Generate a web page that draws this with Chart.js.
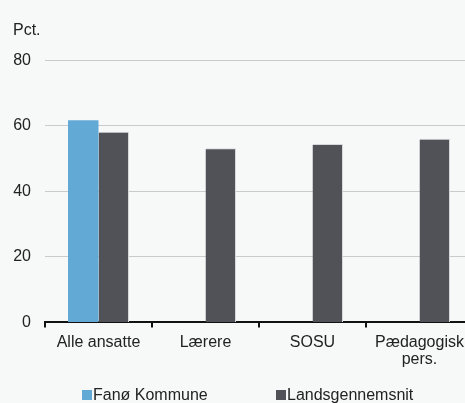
<!DOCTYPE html>
<html>
<head>
<meta charset="utf-8">
<script src="https://cdn.jsdelivr.net/npm/chart.js@4.4.1/dist/chart.umd.min.js"></script>
<style>
  html, body { margin: 0; padding: 0; background: #f7f9f9; overflow: hidden; }
  #wrap { width: 475px; height: 403px; }
</style>
</head>
<body>
<div id="wrap"><canvas id="myChart" width="475" height="403"></canvas></div>
<script>
const categories = ["Alle ansatte", "Lærere", "SOSU", ["Pædagogisk", "pers."]];
const seriesNames = ["Fanø Kommune", "Landsgennemsnit"];
const fanoValues = [61.7, null, null, null];
const landsValues = [58.2, 53.1, 54.4, 56.0];
const yTicks = [0, 20, 40, 60, 80];

const colors = ["#62a9d5", "#515257"];
const fontFamily = "'Liberation Sans', Arial, sans-serif";

// simple legend drawn under the axis, spaced like the original
const legendPlugin = {
  id: "bottomLegend",
  afterDraw(chart) {
    const ctx = chart.ctx;
    const y = 395;
    const starts = [82, 276];
    ctx.save();
    ctx.font = "16px " + fontFamily;
    ctx.textBaseline = "middle";
    chart.data.datasets.forEach((ds, i) => {
      ctx.fillStyle = ds.backgroundColor;
      ctx.fillRect(starts[i], y - 5, 10, 10);
      ctx.fillStyle = "#222";
      ctx.fillText(ds.label, starts[i] + 11, y + 1);
    });
    ctx.restore();
  }
};

var ctx = document.getElementById("myChart").getContext("2d");
var chart = new Chart(ctx, {
  type: "bar",
  data: {
    labels: categories,
    datasets: [
      {
        label: seriesNames[0],
        backgroundColor: colors[0],
        data: fanoValues
      },
      {
        label: seriesNames[1],
        backgroundColor: colors[1],
        borderColor: "#d6d8da",
        borderWidth: { top: 1, right: 1, left: 0, bottom: 0 },
        data: landsValues
      }
    ]
  },
  options: {
    responsive: false,
    animation: false,
    layout: { padding: { left: 13, right: 2, top: 0, bottom: 28 } },
    datasets: { bar: { categoryPercentage: 0.57, barPercentage: 1 } },
    plugins: {
      legend: { display: false },
      tooltip: { enabled: false },
      title: {
        display: true,
        text: "Pct.",
        align: "start",
        color: "#222",
        font: { family: fontFamily, size: 16, weight: "normal" },
        padding: { top: 21, bottom: 20 }
      }
    },
    scales: {
      x: {
        border: { color: "#111", width: 2 },
        grid: {
          offset: true,
          drawOnChartArea: false,
          drawTicks: true,
          tickLength: 5,
          color: "#111",
          lineWidth: 2
        },
        ticks: {
          color: "#222",
          padding: 7,
          maxRotation: 0,
          font: { family: fontFamily, size: 16, lineHeight: 1.05 }
        }
      },
      y: {
        min: 0,
        max: 80,
        afterBuildTicks: axis => {
          axis.ticks = yTicks.map(v => ({ value: v }));
        },
        afterFit: axis => {
          axis.width = 32;
        },
        border: { display: false },
        grid: { color: "#c9cbcc", lineWidth: 1, drawTicks: false },
        ticks: {
          color: "#222",
          padding: 14,
          font: { family: fontFamily, size: 16 }
        }
      }
    }
  },
  plugins: [legendPlugin]
});
</script>
</body>
</html>
